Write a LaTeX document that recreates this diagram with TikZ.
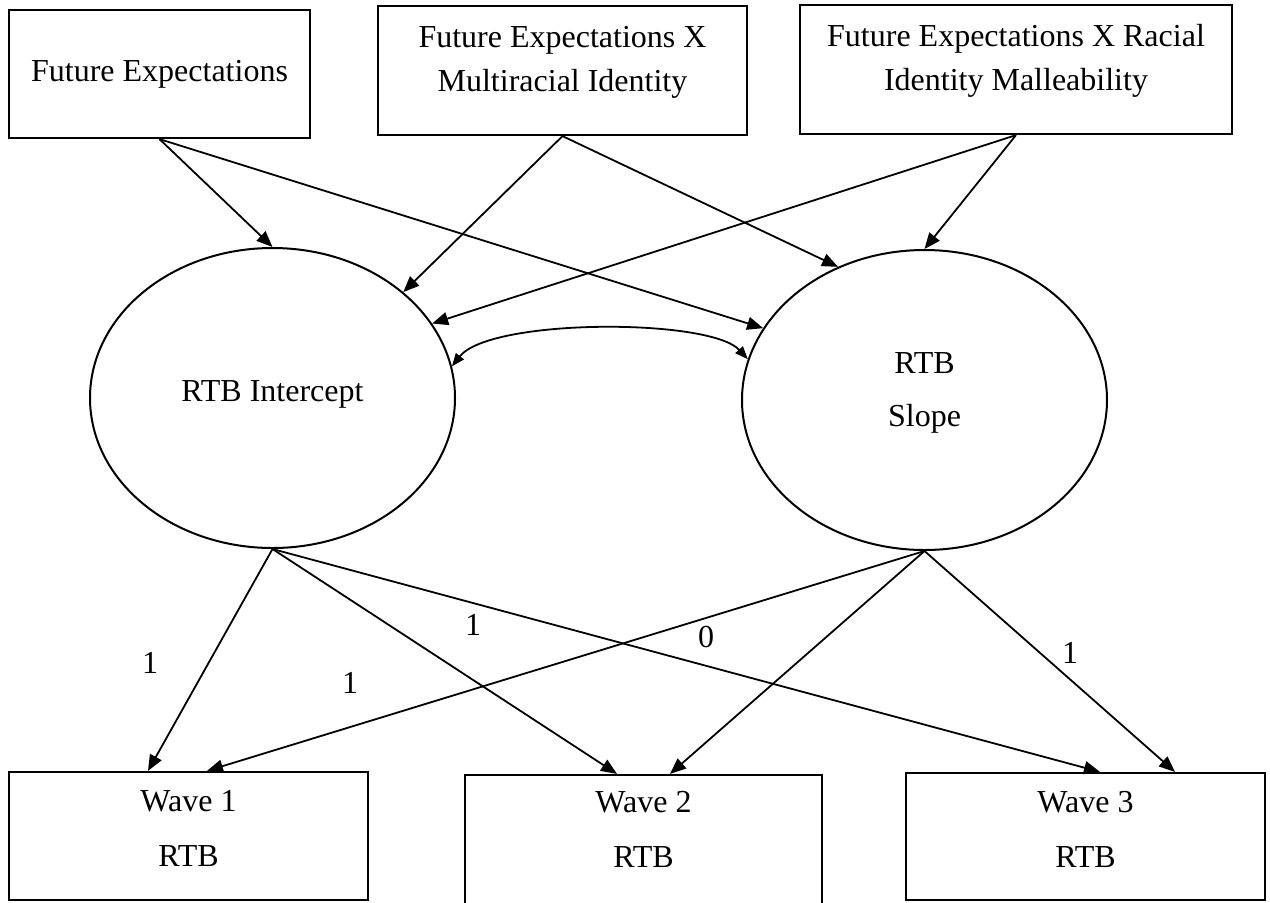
\documentclass[tikz,border=0pt]{standalone}
\usepackage{fontspec}
\setmainfont{Liberation Serif}
\usetikzlibrary{shapes.geometric,arrows.meta,calc}

\begin{document}
\begin{tikzpicture}[x=0.5pt,y=-0.5pt,font=\fontsize{16}{19}\selectfont,%
        box/.style={draw,line width=1.1pt,rectangle,align=center,inner sep=0pt},
        latent/.style={draw,line width=1pt,ellipse,align=center,inner sep=0pt,minimum width=182.5pt,minimum height=150pt},
        effect/.style={line width=.9pt,-{Triangle[length=8pt,width=6.5pt]}},
        cov/.style={line width=.9pt,{Triangle[length=6.5pt,width=5pt]}-{Triangle[length=6.5pt,width=5pt]}},
        coef/.style={inner sep=0pt}]
    \clip (0,0) rectangle (1270,902);
    % predictors
    \node[box,minimum width=150.5pt,minimum height=64pt] (fe) at (159.5,74) {Future Expectations};
    \node[box,minimum width=184.5pt,minimum height=64.5pt,text depth=12pt] (fem) at (562.5,70.5) {Future Expectations X\\[3pt]Multiracial Identity};
    \node[box,minimum width=216pt,minimum height=64.5pt,text depth=12pt] (fer) at (1016,69.5) {Future Expectations X Racial\\[3pt]Identity Malleability};
    % growth factors
    \node[latent,text depth=7pt] (int) at (272.5,398) {RTB Intercept};
    \node[latent,text depth=10pt] (slope) at (924.5,400) {RTB\\[7.5pt]Slope};
    % waves
    \node[box,minimum width=179.5pt,minimum height=64pt,text depth=7.5pt] (w1) at (188.5,836) {Wave 1\\[8.5pt]RTB};
    \node[box,minimum width=178.5pt,minimum height=65.5pt,text depth=11pt] (w2) at (643.5,840.5) {Wave 2\\[8.5pt]RTB};
    \node[box,minimum width=179.5pt,minimum height=63.5pt,text depth=7.5pt] (w3) at (1085.5,836.5) {Wave 3\\[8.5pt]RTB};

    \draw[effect] (fe.south) -- (int.north);
    \draw[effect] (fe.south) -- (slope.156);
    \draw[effect] (fem.south) -- (int.39);
    \draw[effect] (fem.south) -- (slope.123);
    \draw[effect] (fer.south) -- (int.25);
    \draw[effect] (fer.south) -- (slope.north);
    \draw[cov] (int.10) .. controls (490,318) and (710,318) .. (slope.167);

    \draw[effect] (int.south) -- ($(w1.north)+(-40.5,0)$);
    \draw[effect] (int.south) -- ($(w2.north)+(-26.5,0)$);
    \draw[effect] (int.south) -- ($(w3.north)+(14.5,0)$);
    \draw[effect] (slope.south) -- ($(w1.north)+(18.5,0)$);
    \draw[effect] (slope.south) -- ($(w2.north)+(26.5,0)$);
    \draw[effect] (slope.south) -- ($(w3.north)+(89.5,0)$);

    % loadings
    \node[coef] (l1) at (150,663) {1};
    \node[coef] (l2) at (350,683) {1};
    \node[coef] (l3) at (473,625) {1};
    \node[coef] (l4) at (706,637) {0};
    \node[coef] (l5) at (1070,653) {1};
\end{tikzpicture}
\end{document}
